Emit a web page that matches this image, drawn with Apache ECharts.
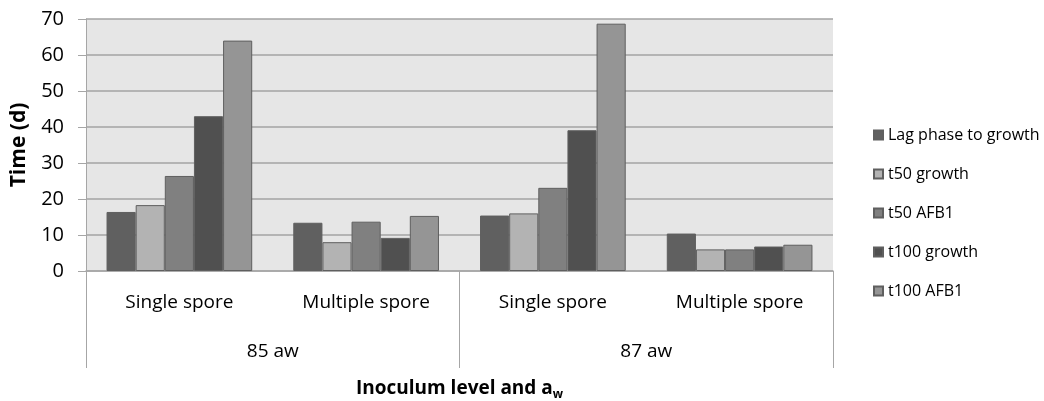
<!DOCTYPE html>
<html><head><meta charset="utf-8">
<script src="https://cdn.jsdelivr.net/npm/echarts@6/dist/echarts.min.js"></script>
<style>html,body{margin:0;padding:0;background:#fff}#c{width:1044px;height:401px}</style>
</head><body><div id="c"></div>
<script>
var categories = ['Single spore', 'Multiple spore', 'Single spore', 'Multiple spore'];
var groups = ['85 aw', '87 aw'];
var seriesNames = ['Lag phase to growth', 't50 growth', 't50 AFB1', 't100 growth', 't100 AFB1'];
var lagPhase = [16.4, 13.4, 15.4, 10.4];
var t50Growth = [18.3, 8.0, 16.0, 6.0];
var t50AFB1 = [26.4, 13.7, 23.1, 6.0];
var t100Growth = [43.0, 9.2, 39.1, 6.8];
var t100AFB1 = [64.0, 15.3, 68.7, 7.3];
var colors = ['#606060', '#b3b3b3', '#808080', '#505050', '#959595'];
var values = [lagPhase, t50Growth, t50AFB1, t100Growth, t100AFB1];
var FONT = '"Open Sans", sans-serif';

var chart = echarts.init(document.getElementById('c'));
chart.setOption({
  animation: false,
  textStyle: { fontFamily: FONT },
  grid: { left: 86, right: 211, top: 19, bottom: 130, show: true, backgroundColor: '#e6e6e6', borderWidth: 0,
          containLabel: false, outerBoundsMode: 'none' },
  legend: {
    orient: 'vertical', left: 868, top: 122, itemGap: 23, itemWidth: 9, itemHeight: 9, icon: 'rect',
    data: seriesNames,
    textStyle: { fontFamily: FONT, fontSize: 16, color: '#000' }
  },
  xAxis: [{
    type: 'category', data: categories, gridIndex: 0, position: 'bottom',
    axisLine: { show: true, lineStyle: { color: '#a6a6a6', width: 1.5 } },
    axisTick: { show: false },
    axisLabel: { margin: 22, fontSize: 19, color: '#000', fontFamily: FONT },
    name: '{a|Inoculum level and a}{b|w}', nameLocation: 'middle', nameGap: 106,
    nameTextStyle: { rich: {
      a: { fontSize: 19, fontWeight: 'bold', color: '#000', fontFamily: FONT },
      b: { fontSize: 12, fontWeight: 'bold', color: '#000', fontFamily: FONT, padding: [12, 0, 0, 0] }
    } }
  }, {
    type: 'category', data: groups, gridIndex: 0, position: 'bottom', offset: 0,
    axisLine: { show: false },
    axisTick: { show: true, length: 97, lineStyle: { color: '#a6a6a6', width: 1 } },
    axisLabel: { margin: 71, fontSize: 19, color: '#000', fontFamily: FONT }
  }],
  yAxis: {
    type: 'value', min: 0, max: 70, interval: 10,
    axisLine: { show: true, lineStyle: { color: '#a6a6a6' } },
    axisTick: { show: true, length: 8, lineStyle: { color: '#a6a6a6' } },
    axisLabel: { margin: 22, fontSize: 20, color: '#000', fontFamily: FONT },
    splitLine: { show: true, lineStyle: { color: '#a3a3a3', width: 1.5 } },
    name: 'Time (d)', nameLocation: 'middle', nameGap: 56, nameRotate: 90,
    nameTextStyle: { fontSize: 21, fontWeight: 'bold', color: '#000', fontFamily: FONT }
  },
  series: seriesNames.map(function (n, i) {
    return {
      name: n, type: 'bar', xAxisIndex: 0, data: values[i],
      barCategoryGap: '22%', barGap: '0%',
      itemStyle: { color: colors[i], borderColor: '#5f5f5f', borderWidth: 1 }
    };
  })
});
</script></body></html>
